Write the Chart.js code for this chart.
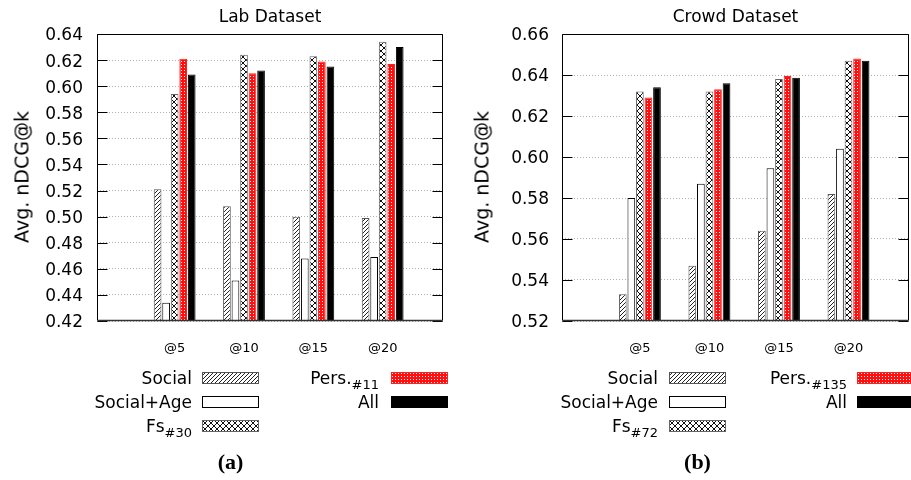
<!DOCTYPE html>
<html>
<head>
<meta charset="utf-8">
<script src="https://cdn.jsdelivr.net/npm/chart.js@4.4.1/dist/chart.umd.min.js"></script>
<style>
  html, body { margin:0; padding:0; background:#fff; }
  #wrap { position:relative; width:911px; height:480px; overflow:hidden; background:#fff; font-family:"DejaVu Sans", sans-serif; color:#000; }
  canvas.chart { position:absolute; top:0; }
  .t { position:absolute; white-space:nowrap; line-height:1; font-family:"DejaVu Sans", sans-serif; }
  .sub { font-size:13px; position:relative; top:5px; }
  .cap { position:absolute; white-space:nowrap; line-height:1; font-family:"Liberation Serif", serif; font-weight:bold; font-size:22px; transform:translateX(-50%); }
  canvas.sw { position:absolute; }
</style>
</head>
<body>
<div id="wrap">
  <canvas id="lab" class="chart" width="460" height="480" style="left:0px;width:460px;height:480px"></canvas>
  <canvas id="crowd" class="chart" width="451" height="480" style="left:460px;width:451px;height:480px"></canvas>
</div>
<script>
// ---------- data ----------
const categories = ['@5', '@10', '@15', '@20'];
const seriesNames = ['Social', 'Social+Age', 'Fs', 'Pers.', 'All'];

const labSocial    = [0.521, 0.508, 0.500, 0.499];
const labSocialAge = [0.434, 0.451, 0.468, 0.469];
const labFs        = [0.594, 0.624, 0.623, 0.634];
const labPers      = [0.621, 0.610, 0.619, 0.617];
const labAll       = [0.609, 0.612, 0.615, 0.630];

const crowdSocial    = [0.533, 0.547, 0.564, 0.582];
const crowdSocialAge = [0.580, 0.587, 0.5945, 0.604];
const crowdFs        = [0.632, 0.632, 0.638, 0.647];
const crowdPers      = [0.629, 0.633, 0.6395, 0.648];
const crowdAll       = [0.634, 0.636, 0.6387, 0.647];

const labTicks   = [0.42, 0.44, 0.46, 0.48, 0.50, 0.52, 0.54, 0.56, 0.58, 0.60, 0.62, 0.64];
const crowdTicks = [0.52, 0.54, 0.56, 0.58, 0.60, 0.62, 0.64, 0.66];

const labTitle = 'Lab Dataset';
const crowdTitle = 'Crowd Dataset';
const yTitle = 'Avg. nDCG@k';
const labSubs = ['#30', '#11'];
const crowdSubs = ['#72', '#135'];

// ---------- patterns ----------
function tile(w, h, draw) {
  const c = document.createElement('canvas');
  c.width = w; c.height = h;
  draw(c.getContext('2d'));
  return c;
}
const hatchTile = tile(4, 4, g => {
  g.fillStyle = '#fff'; g.fillRect(0, 0, 4, 4);
  g.strokeStyle = '#222'; g.lineWidth = 1;
  g.beginPath();
  g.moveTo(0, 4); g.lineTo(4, 0);
  g.moveTo(-1, 1); g.lineTo(1, -1);
  g.moveTo(3, 5); g.lineTo(5, 3);
  g.stroke();
});
const crossTile = tile(6, 6, g => {
  g.fillStyle = '#fff'; g.fillRect(0, 0, 6, 6);
  g.strokeStyle = '#111'; g.lineWidth = 1;
  g.beginPath();
  g.moveTo(0, 0); g.lineTo(6, 6);
  g.moveTo(0, 6); g.lineTo(6, 0);
  g.stroke();
});
const redTile = tile(3, 3, g => {
  g.fillStyle = '#ff1010'; g.fillRect(0, 0, 3, 3);
  g.fillStyle = '#fff'; g.fillRect(1, 1, 1, 1);
});

function styles(ctx) {
  return [
    { bg: ctx.createPattern(hatchTile, 'repeat'), bd: '#555' },
    { bg: '#ffffff', bd: '#000' },
    { bg: ctx.createPattern(crossTile, 'repeat'), bd: '#666' },
    { bg: ctx.createPattern(redTile, 'repeat'), bd: '#ff2020' },
    { bg: '#000000', bd: '#000' }
  ];
}

// ---------- frame plugin (gnuplot-like box with inward ticks) ----------
const framePlugin = {
  id: 'frame',
  afterDatasetsDraw(chart) {
    const ctx = chart.ctx, a = chart.chartArea, y = chart.scales.y;
    const L = Math.round(a.left) + 0.5, R = Math.round(a.right) - 0.5;
    const T = Math.round(a.top) + 0.5, B = Math.round(a.bottom) - 0.5;
    ctx.save();
    ctx.setLineDash([]);
    ctx.strokeStyle = '#000';
    ctx.lineWidth = 1;
    ctx.beginPath();
    y.ticks.forEach(t => {
      const py = Math.round(y.getPixelForValue(t.value)) + 0.5;
      ctx.moveTo(L, py); ctx.lineTo(L + 10, py);
      ctx.moveTo(R, py); ctx.lineTo(R - 10, py);
    });
    ctx.moveTo(L, T); ctx.lineTo(R, T);
    ctx.moveTo(L, T); ctx.lineTo(L, B);
    ctx.moveTo(R, T); ctx.lineTo(R, B);
    ctx.stroke();
    ctx.beginPath();
    ctx.lineWidth = 1.5;
    ctx.strokeStyle = '#333';
    ctx.moveTo(L, B); ctx.lineTo(R, B);
    ctx.stroke();
    ctx.restore();
  }
};

function makeChart(id, series, yTicks, area, labelPad) {
  const canvas = document.getElementById(id);
  const ctx = canvas.getContext('2d');
  const st = styles(ctx);
  const datasets = series.map((vals, i) => ({
    label: seriesNames[i],
    data: vals.map((v, k) => ({ x: k, y: v })),
    backgroundColor: st[i].bg,
    borderColor: st[i].bd,
    borderWidth: 1,
    borderSkipped: false,
    categoryPercentage: 0.615,
    barPercentage: 0.9
  }));
  return new Chart(ctx, {
    type: 'bar',
    data: { datasets },
    plugins: [framePlugin],
    options: {
      responsive: false,
      animation: false,
      devicePixelRatio: 1,
      layout: { padding: { left: 0, top: area.top, right: canvas.width - area.right, bottom: 0 } },
      plugins: { legend: { display: false }, title: { display: false }, tooltip: { enabled: false } },
      scales: {
        x: {
          type: 'linear',
          offset: false,
          bounds: 'data',
          min: -1.12, max: 3.87,
          grid: { display: false, drawTicks: false, offset: false },
          border: { display: false },
          afterBuildTicks: s => { s.ticks = categories.map((c, k) => ({ value: k })); },
          afterFit: s => { s.height = canvas.height - area.bottom; },
          ticks: {
            autoSkip: false, maxRotation: 0, padding: 20,
            color: '#000',
            font: { family: 'DejaVu Sans', size: 13 },
            callback: v => categories[v]
          }
        },
        y: {
          min: yTicks[0], max: yTicks[yTicks.length - 1],
          afterBuildTicks: s => { s.ticks = yTicks.map(v => ({ value: v })); },
          afterFit: s => { s.width = area.left; },
          grid: { color: '#b0b0b0', lineWidth: 1, drawTicks: false },
          border: { display: false, dash: [1, 2] },
          ticks: {
            padding: labelPad, labelOffset: 2,
            color: '#000',
            font: { family: 'DejaVu Sans', size: 17 },
            callback: v => Number(v).toFixed(2)
          }
        }
      }
    }
  });
}

makeChart('lab', [labSocial, labSocialAge, labFs, labPers, labAll], labTicks,
  { left: 97, right: 443, top: 34, bottom: 321 }, 14);
makeChart('crowd', [crowdSocial, crowdSocialAge, crowdFs, crowdPers, crowdAll], crowdTicks,
  { left: 102, right: 449, top: 34, bottom: 321 }, 13);

// ---------- texts, legends, captions ----------
const wrap = document.getElementById('wrap');
function addText(html, css) {
  const d = document.createElement('div');
  d.className = 't';
  d.innerHTML = html;
  Object.assign(d.style, css);
  wrap.appendChild(d);
  return d;
}
addText(labTitle, { fontSize: '17px', left: '270px', top: '8.3px', transform: 'translateX(-50%)' });
addText(crowdTitle, { fontSize: '17px', left: '735.5px', top: '8.3px', transform: 'translateX(-50%)' });
addText(yTitle, { fontSize: '19px', left: '21.5px', top: '177px', transform: 'translate(-50%,-50%) rotate(-90deg)' });
addText(yTitle, { fontSize: '19px', left: '481.5px', top: '177px', transform: 'translate(-50%,-50%) rotate(-90deg)' });

function swatch(x, y, w, h, idx) {
  const c = document.createElement('canvas');
  c.className = 'sw';
  c.width = w; c.height = h;
  c.style.left = x + 'px'; c.style.top = y + 'px';
  c.style.width = w + 'px'; c.style.height = h + 'px';
  wrap.appendChild(c);
  const g = c.getContext('2d');
  const st = styles(g)[idx];
  g.fillStyle = st.bg; g.fillRect(0, 0, w, h);
  g.strokeStyle = st.bd; g.lineWidth = 1; g.strokeRect(0.5, 0.5, w - 1, h - 1);
}

function legend(col1End, sw1, col2End, sw2, subs) {
  const rows = [370.1, 394.1, 418.1];
  const swTop = [372, 396, 420];
  const labels = [
    seriesNames[0],
    seriesNames[1],
    seriesNames[2] + '<span class="sub">' + subs[0] + '</span>',
    seriesNames[3] + '<span class="sub">' + subs[1] + '</span>',
    seriesNames[4]
  ];
  for (let i = 0; i < 3; i++) {
    addText(labels[i], { fontSize: '17px', right: (911 - col1End) + 'px', top: rows[i] + 'px' });
    swatch(sw1, swTop[i], 57, 12, i);
  }
  for (let i = 3; i < 5; i++) {
    addText(labels[i], { fontSize: '17px', right: (911 - col2End) + 'px', top: rows[i - 3] + 'px' });
    swatch(sw2, swTop[i - 3], 57, 12, i);
  }
}
legend(192, 202, 379, 391, labSubs);
legend(658, 669, 847, 857, crowdSubs);

const ca = document.createElement('div'); ca.className = 'cap'; ca.textContent = '(a)';
ca.style.left = '230.5px'; ca.style.top = '450.6px'; wrap.appendChild(ca);
const cb = document.createElement('div'); cb.className = 'cap'; cb.textContent = '(b)';
cb.style.left = '697.5px'; cb.style.top = '450.6px'; wrap.appendChild(cb);
</script>
</body>
</html>
